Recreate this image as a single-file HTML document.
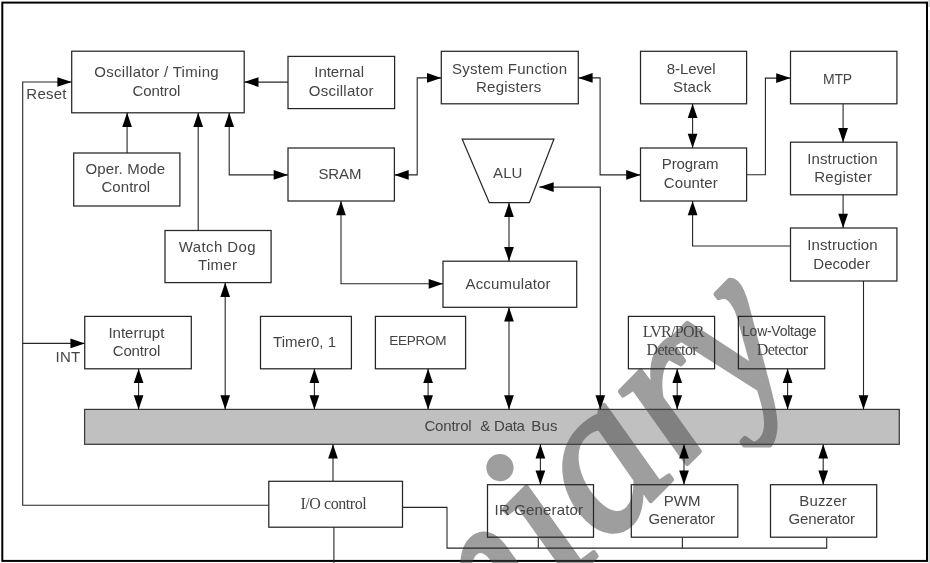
<!DOCTYPE html>
<html lang="en">
<head>
<meta charset="utf-8">
<title>Block Diagram</title>
<style>
html,body{margin:0;padding:0;background:#fff;}
body{width:930px;height:563px;overflow:hidden;position:relative;}
svg{position:absolute;left:0;top:0;display:block;}
.s{font-family:"Liberation Sans",Arial,Helvetica,sans-serif;}
.r{font-family:"Liberation Serif","Times New Roman",Times,serif;}
text{fill:#444444;white-space:pre;}
.wm{font-family:"Liberation Serif","Times New Roman",Times,serif;font-style:italic;}
</style>
</head>
<body>
<svg width="930" height="563" viewBox="0 0 930 563" style="will-change:transform">
<rect x="0" y="0" width="930" height="563" fill="#fff"/>
<rect x="928.3" y="30" width="1.7" height="533" fill="#d0d0d0"/>
<rect x="928.3" y="0" width="1.7" height="7" fill="#d0d0d0"/>
<rect x="2.3" y="2.6" width="924.7" height="558.3" fill="none" stroke="#000" stroke-width="2"/>
<rect x="84.60" y="409.40" width="814.70" height="34.90" fill="#c0c0c0"/>
<defs><clipPath id="wmclip"><path clip-rule="evenodd" d="M0 0H930V563H0Z M722 447.5H800V472H722Z"/></clipPath></defs>
<g clip-path="url(#wmclip)">
<text class="wm" transform="translate(153.94,1006.60) rotate(-45.50)" dx="0 0 0 0 0 0 0 0 0 -7" font-size="215px" font-weight="normal" stroke="#464646" stroke-width="4.50" stroke-linejoin="round" style="fill:#464646;opacity:0.52;font-kerning:none">Prelimiary</text>
</g>
<rect x="84.60" y="409.40" width="814.70" height="34.90" fill="none" stroke="#3a3a3a" stroke-width="1.25"/>
<g fill="none" stroke="#262626" stroke-width="1.25">
<rect x="71.70" y="51.20" width="172.50" height="61.60"/>
<rect x="288.00" y="56.40" width="106.60" height="52.20"/>
<rect x="441.30" y="51.30" width="137.00" height="52.50"/>
<rect x="640.50" y="51.30" width="106.10" height="52.50"/>
<rect x="790.50" y="51.30" width="106.40" height="52.50"/>
<rect x="73.70" y="153.00" width="106.20" height="53.00"/>
<rect x="288.00" y="148.00" width="106.40" height="53.00"/>
<rect x="640.50" y="148.00" width="106.10" height="53.00"/>
<rect x="790.50" y="142.20" width="106.40" height="52.60"/>
<rect x="165.00" y="230.50" width="106.10" height="52.10"/>
<rect x="443.00" y="261.20" width="133.70" height="46.10"/>
<rect x="790.50" y="228.00" width="106.40" height="53.00"/>
<rect x="84.75" y="316.40" width="106.55" height="52.40"/>
<rect x="260.50" y="316.40" width="90.90" height="52.40"/>
<rect x="375.40" y="316.40" width="90.20" height="52.40"/>
<rect x="628.40" y="316.40" width="86.20" height="52.40"/>
<rect x="738.40" y="316.40" width="86.30" height="52.40"/>
<rect x="268.80" y="481.30" width="133.70" height="45.90"/>
<rect x="487.50" y="484.70" width="106.00" height="52.50"/>
<rect x="631.30" y="484.70" width="106.50" height="52.50"/>
<rect x="770.50" y="484.70" width="106.20" height="52.50"/>
<polygon points="462.20,139.20 553.90,139.20 529.40,202.70 489.30,202.70"/>
</g>
<g fill="none" stroke="#262626" stroke-width="1.10">
<polyline points="268.80,505.30 22.70,505.30 22.70,82.00 71.70,82.00"/>
<polyline points="22.70,343.40 84.75,343.40"/>
<polyline points="288.00,82.10 244.20,82.10"/>
<polyline points="127.10,153.00 127.10,112.80"/>
<polyline points="198.20,230.50 198.20,112.80"/>
<polyline points="229.20,112.80 229.20,174.90 288.00,174.90"/>
<polyline points="394.40,174.90 417.20,174.90 417.20,77.90 441.30,77.90"/>
<polyline points="341.00,201.00 341.00,283.80 443.00,283.80"/>
<polyline points="509.00,202.70 509.00,261.20"/>
<polyline points="578.30,77.90 600.10,77.90 600.10,174.90 640.50,174.90"/>
<polyline points="539.40,187.10 600.30,187.10 600.30,409.50"/>
<polyline points="692.60,103.80 692.60,148.00"/>
<polyline points="746.60,174.80 765.40,174.80 765.40,78.10 790.50,78.10"/>
<polyline points="843.10,103.80 843.10,142.20"/>
<polyline points="843.10,194.80 843.10,228.00"/>
<polyline points="790.50,246.00 692.60,246.00 692.60,201.00"/>
<polyline points="863.50,281.00 863.50,409.50"/>
<polyline points="225.20,282.60 225.20,409.50"/>
<polyline points="138.60,368.80 138.60,409.50"/>
<polyline points="314.40,368.80 314.40,409.50"/>
<polyline points="428.10,368.80 428.10,409.50"/>
<polyline points="509.00,307.30 509.00,409.50"/>
<polyline points="677.20,368.80 677.20,409.50"/>
<polyline points="787.60,368.80 787.60,409.50"/>
<polyline points="333.00,481.30 333.00,444.30"/>
<polyline points="540.40,444.30 540.40,484.70"/>
<polyline points="684.00,444.30 684.00,484.70"/>
<polyline points="823.20,444.30 823.20,484.70"/>
<polyline points="402.50,507.40 447.00,507.40 447.00,548.10 826.70,548.10 826.70,537.20"/>
<polyline points="538.30,537.20 538.30,548.10"/>
<polyline points="682.40,537.20 682.40,548.10"/>
<polyline points="333.90,527.20 333.90,563.00"/>
</g>
<g fill="#000" stroke="none">
<polygon points="71.70,82.00 57.40,86.85 57.40,77.15"/>
<polygon points="84.75,343.40 70.45,348.25 70.45,338.55"/>
<polygon points="244.20,82.10 258.50,77.25 258.50,86.95"/>
<polygon points="127.10,112.80 131.95,127.10 122.25,127.10"/>
<polygon points="198.20,112.80 203.05,127.10 193.35,127.10"/>
<polygon points="288.00,174.90 273.70,179.75 273.70,170.05"/>
<polygon points="229.20,112.80 234.05,127.10 224.35,127.10"/>
<polygon points="441.30,77.90 427.00,82.75 427.00,73.05"/>
<polygon points="394.40,174.90 408.70,170.05 408.70,179.75"/>
<polygon points="443.00,283.80 428.70,288.65 428.70,278.95"/>
<polygon points="341.00,201.00 345.85,215.30 336.15,215.30"/>
<polygon points="509.00,261.20 504.15,246.90 513.85,246.90"/>
<polygon points="509.00,202.70 513.85,217.00 504.15,217.00"/>
<polygon points="640.50,174.90 626.20,179.75 626.20,170.05"/>
<polygon points="578.30,77.90 592.60,73.05 592.60,82.75"/>
<polygon points="600.30,409.50 595.45,395.20 605.15,395.20"/>
<polygon points="539.40,187.10 553.70,182.25 553.70,191.95"/>
<polygon points="692.60,148.00 687.75,133.70 697.45,133.70"/>
<polygon points="692.60,103.80 697.45,118.10 687.75,118.10"/>
<polygon points="790.50,78.10 776.20,82.95 776.20,73.25"/>
<polygon points="843.10,142.20 838.25,127.90 847.95,127.90"/>
<polygon points="843.10,228.00 838.25,213.70 847.95,213.70"/>
<polygon points="692.60,201.00 697.45,215.30 687.75,215.30"/>
<polygon points="863.50,409.50 858.65,395.20 868.35,395.20"/>
<polygon points="225.20,409.50 220.35,395.20 230.05,395.20"/>
<polygon points="225.20,282.60 230.05,296.90 220.35,296.90"/>
<polygon points="138.60,409.50 133.75,395.20 143.45,395.20"/>
<polygon points="138.60,368.80 143.45,383.10 133.75,383.10"/>
<polygon points="314.40,409.50 309.55,395.20 319.25,395.20"/>
<polygon points="314.40,368.80 319.25,383.10 309.55,383.10"/>
<polygon points="428.10,409.50 423.25,395.20 432.95,395.20"/>
<polygon points="428.10,368.80 432.95,383.10 423.25,383.10"/>
<polygon points="509.00,409.50 504.15,395.20 513.85,395.20"/>
<polygon points="509.00,307.30 513.85,321.60 504.15,321.60"/>
<polygon points="677.20,409.50 672.35,395.20 682.05,395.20"/>
<polygon points="677.20,368.80 682.05,383.10 672.35,383.10"/>
<polygon points="787.60,409.50 782.75,395.20 792.45,395.20"/>
<polygon points="787.60,368.80 792.45,383.10 782.75,383.10"/>
<polygon points="333.00,444.30 337.85,458.60 328.15,458.60"/>
<polygon points="540.40,484.70 535.55,470.40 545.25,470.40"/>
<polygon points="540.40,444.30 545.25,458.60 535.55,458.60"/>
<polygon points="684.00,484.70 679.15,470.40 688.85,470.40"/>
<polygon points="684.00,444.30 688.85,458.60 679.15,458.60"/>
<polygon points="823.20,484.70 818.35,470.40 828.05,470.40"/>
<polygon points="823.20,444.30 828.05,458.60 818.35,458.60"/>
</g>
<g>
<text><tspan class="s" x="94.30" y="76.85" font-size="15px" letter-spacing="0.284px">Oscillator / Timing</tspan> <tspan class="s" x="132.60" y="95.95" font-size="15px" letter-spacing="-0.110px">Control</tspan></text>
<text><tspan class="s" x="26.30" y="99.15" font-size="15px" letter-spacing="0.253px">Reset</tspan></text>
<text><tspan class="s" x="314.30" y="76.85" font-size="15px" letter-spacing="-0.047px">Internal</tspan> <tspan class="s" x="308.80" y="95.55" font-size="15px" letter-spacing="0.243px">Oscillator</tspan></text>
<text><tspan class="s" x="452.10" y="73.55" font-size="15px" letter-spacing="0.228px">System Function</tspan> <tspan class="s" x="476.00" y="91.55" font-size="15px" letter-spacing="0.230px">Registers</tspan></text>
<text><tspan class="s" x="666.70" y="73.85" font-size="15px" letter-spacing="-0.067px">8-Level</tspan> <tspan class="s" x="673.00" y="91.55" font-size="15px" letter-spacing="0.188px">Stack</tspan></text>
<text><tspan class="s" x="823.00" y="83.90" font-size="14px" letter-spacing="-0.173px">MTP</tspan></text>
<text><tspan class="s" x="85.50" y="173.55" font-size="15px" letter-spacing="0.147px">Oper. Mode</tspan> <tspan class="s" x="101.40" y="192.45" font-size="15px" letter-spacing="0.073px">Control</tspan></text>
<text><tspan class="s" x="178.80" y="251.55" font-size="15px" letter-spacing="0.395px">Watch Dog</tspan> <tspan class="s" x="198.00" y="270.25" font-size="15px" letter-spacing="0.284px">Timer</tspan></text>
<text><tspan class="s" x="318.40" y="178.95" font-size="15px" letter-spacing="-0.115px">SRAM</tspan></text>
<text><tspan class="s" x="493.10" y="177.75" font-size="15px" letter-spacing="0.056px">ALU</tspan></text>
<text><tspan class="s" x="661.80" y="168.55" font-size="15px" letter-spacing="-0.136px">Program</tspan> <tspan class="s" x="663.80" y="187.75" font-size="15px" letter-spacing="0.090px">Counter</tspan></text>
<text><tspan class="s" x="807.20" y="163.55" font-size="15px" letter-spacing="0.130px">Instruction</tspan> <tspan class="s" x="814.20" y="181.55" font-size="15px" letter-spacing="0.263px">Register</tspan></text>
<text><tspan class="s" x="807.20" y="249.90" font-size="15px" letter-spacing="0.130px">Instruction</tspan> <tspan class="s" x="813.35" y="268.65" font-size="15px" letter-spacing="-0.026px">Decoder</tspan></text>
<text><tspan class="s" x="465.50" y="288.95" font-size="15px" letter-spacing="0.174px">Accumulator</tspan></text>
<text><tspan class="s" x="108.40" y="337.75" font-size="15px" letter-spacing="0.018px">Interrupt</tspan> <tspan class="s" x="112.70" y="355.75" font-size="15px" letter-spacing="-0.135px">Control</tspan></text>
<text><tspan class="s" x="55.50" y="361.65" font-size="15px" letter-spacing="0.222px">INT</tspan></text>
<text><tspan class="s" x="273.00" y="347.25" font-size="15px" letter-spacing="0.025px">Timer0, 1</tspan></text>
<text><tspan class="s" x="389.20" y="344.95" font-size="13.5px" letter-spacing="-0.263px">EEPROM</tspan></text>
<text><tspan class="r" x="642.70" y="337.25" font-size="16px" letter-spacing="-0.735px">LVR/POR</tspan> <tspan class="r" x="646.40" y="354.95" font-size="16px" letter-spacing="-0.540px">Detector</tspan></text>
<text><tspan class="s" x="742.10" y="336.05" font-size="14px" letter-spacing="-0.266px">Low-Voltage</tspan> <tspan class="r" x="756.70" y="354.95" font-size="16px" letter-spacing="-0.540px">Detector</tspan></text>
<text><tspan class="s" x="424.50" y="430.95" font-size="15px" letter-spacing="-0.210px">Control</tspan> <tspan class="s" x="480.20" y="430.95" font-size="15px" letter-spacing="0.000px">&amp;</tspan> <tspan class="s" x="494.10" y="430.95" font-size="15px" letter-spacing="-0.296px">Data</tspan> <tspan class="s" x="531.30" y="430.95" font-size="15px" letter-spacing="0.178px">Bus</tspan></text>
<text><tspan class="r" x="300.40" y="509.35" font-size="16px" letter-spacing="-0.436px">I/O control</tspan></text>
<text><tspan class="s" x="494.60" y="515.15" font-size="15px" letter-spacing="0.154px">IR Generator</tspan></text>
<text><tspan class="s" x="663.80" y="505.95" font-size="15px" letter-spacing="0.022px">PWM</tspan> <tspan class="s" x="648.40" y="524.35" font-size="15px" letter-spacing="-0.116px">Generator</tspan></text>
<text><tspan class="s" x="799.30" y="505.95" font-size="15px" letter-spacing="0.142px">Buzzer</tspan> <tspan class="s" x="788.40" y="524.35" font-size="15px" letter-spacing="-0.116px">Generator</tspan></text>
</g>
</svg>
</body>
</html>
